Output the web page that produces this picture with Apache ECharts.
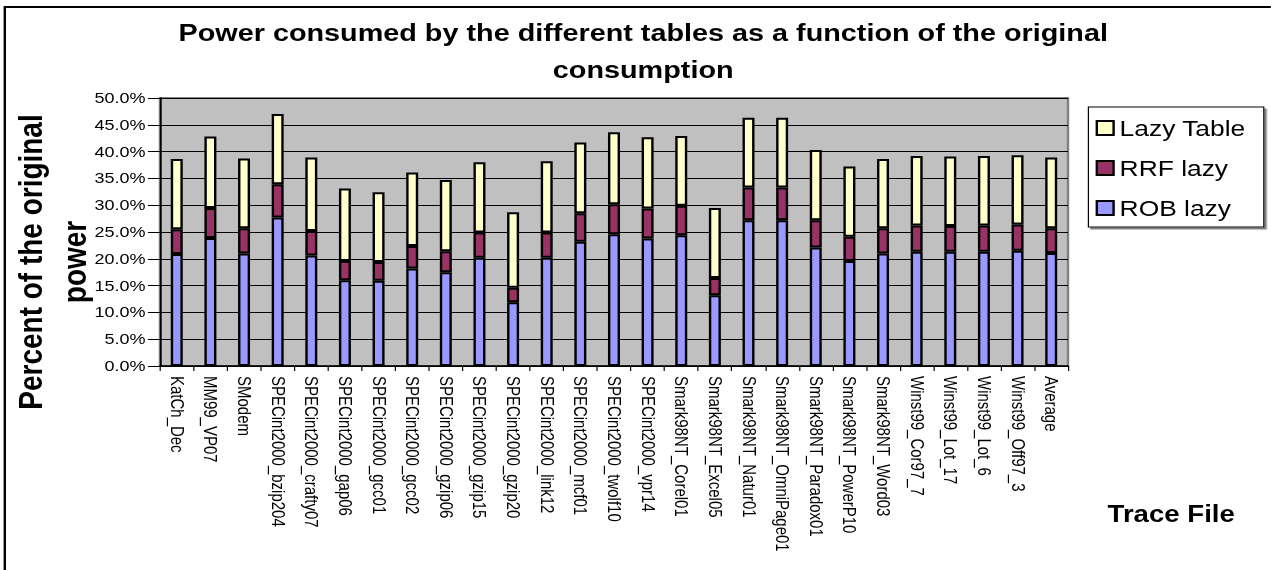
<!DOCTYPE html>
<html>
<head>
<meta charset="utf-8">
<script src="https://cdn.jsdelivr.net/npm/echarts@6/dist/echarts.min.js"></script>
<style>
html,body{margin:0;padding:0;background:#fff;overflow:hidden;}
#c{width:1059px;height:570px;transform:scaleX(1.2);transform-origin:0 0;}
</style>
</head>
<body>
<div id="c"></div>
<script>
const categories = ["KatCh_Dec","MM99_VP07","SModem","SPECint2000_bzip204","SPECint2000_crafty07","SPECint2000_gap06","SPECint2000_gcc01","SPECint2000_gcc02","SPECint2000_gzip06","SPECint2000_gzip15","SPECint2000_gzip20","SPECint2000_link12","SPECint2000_mcf01","SPECint2000_twolf10","SPECint2000_vpr14","Smark98NT_Corel01","Smark98NT_Excel05","Smark98NT_Natur01","Smark98NT_OmniPage01","Smark98NT_Paradox01","Smark98NT_PowerP10","Smark98NT_Word03","Winst99_Cor97_7","Winst99_Lot_17","Winst99_Lot_6","Winst99_Off97_3","Average"];
const robLazy = [20.9,23.9,21.0,27.7,20.6,16.0,15.9,18.2,17.5,20.2,11.9,20.2,23.2,24.6,23.8,24.4,13.2,27.2,27.2,22.1,19.6,21.0,21.3,21.3,21.3,21.5,21.1];
const rrfLazy = [4.6,5.6,4.7,6.2,4.6,3.6,3.5,4.2,3.9,4.7,2.7,4.7,5.3,5.6,5.6,5.5,3.2,6.1,6.1,5.1,4.5,4.7,4.9,4.8,4.9,4.9,4.6];
const lazyTable = [13.1,13.3,13.0,13.1,13.7,13.5,13.0,13.7,13.3,13.1,14.1,13.3,13.2,13.4,13.3,13.0,13.1,13.0,13.0,13.1,13.1,12.9,13.0,13.0,13.0,12.9,13.2];
const yTicks = {min:0, max:50, interval:5};
const titleLines = ["Power consumed by the different tables as a function of the original","consumption"];
const yTitle = "Percent of the original\npower";
const xTitle = "Trace File";

const FONT = "'Liberation Sans', Arial, sans-serif";
const chart = echarts.init(document.getElementById('c'), null, {renderer:'svg'});
const barStyle = c => ({color:c, borderColor:'#000', borderWidth:2});
chart.setOption({
  animation:false,
  backgroundColor:'#fff',
  textStyle:{fontFamily:FONT},
  graphic:[
    {type:'rect', silent:true, z:-10, shape:{x:4,y:7,width:1200,height:700}, style:{fill:'#fff', stroke:'#000', lineWidth:2}},
    {type:'text', x:536, y:33, style:{text:titleLines[0], font:"bold 24px "+FONT, fill:'#000', textAlign:'center', textVerticalAlign:'middle'}},
    {type:'text', x:536, y:70, style:{text:titleLines[1], font:"bold 24px "+FONT, fill:'#000', textAlign:'center', textVerticalAlign:'middle'}},
    {type:'text', x:44, y:262, rotation:Math.PI/2, style:{text:yTitle, font:"bold 28px "+FONT, lineHeight:37, fill:'#000', textAlign:'center', textVerticalAlign:'middle'}},
    {type:'text', x:976, y:514, style:{text:xTitle, font:"bold 23px "+FONT, fill:'#000', textAlign:'center', textVerticalAlign:'middle'}}
  ],
  legend:{
    orient:'vertical', left:907, top:107,
    data:['Lazy Table','RRF lazy','ROB lazy'],
    itemWidth:14, itemHeight:14, itemGap:18,
    padding:[10,15,8,6],
    icon:'rect',
    itemStyle:{borderColor:'#000', borderWidth:2},
    textStyle:{fontSize:22, color:'#000', fontFamily:FONT},
    borderColor:'#000', borderWidth:1, backgroundColor:'#fff',
    shadowColor:'#808080', shadowOffsetX:2, shadowOffsetY:2, shadowBlur:0
  },
  grid:{left:133.3, top:98, width:756.7, height:268, show:true, backgroundColor:'#C0C0C0', borderColor:'#808080', borderWidth:2},
  xAxis:{
    type:'category', data:categories,
    axisLine:{lineStyle:{color:'#000', width:1.5}},
    axisTick:{show:true, length:5, lineStyle:{color:'#000'}},
    axisLabel:{rotate:-90, fontSize:15, color:'#000', margin:10, interval:0, fontFamily:FONT}
  },
  yAxis:{
    type:'value', min:yTicks.min, max:yTicks.max, interval:yTicks.interval,
    axisLine:{show:true, lineStyle:{color:'#000', width:1.5}},
    axisTick:{show:true, length:10, lineStyle:{color:'#000'}},
    axisLabel:{fontSize:15, color:'#000', margin:12, formatter:v=>v.toFixed(1)+'%', fontFamily:FONT},
    splitLine:{show:true, lineStyle:{color:'#000', width:1}}
  },
  series:[
    {name:'ROB lazy', type:'bar', stack:'s', data:robLazy, barWidth:10, itemStyle:barStyle('#9999FF')},
    {name:'RRF lazy', type:'bar', stack:'s', data:rrfLazy, barWidth:10, itemStyle:barStyle('#993366')},
    {name:'Lazy Table', type:'bar', stack:'s', data:lazyTable, barWidth:10, itemStyle:barStyle('#FFFFCC')}
  ]
});
</script>
</body>
</html>
